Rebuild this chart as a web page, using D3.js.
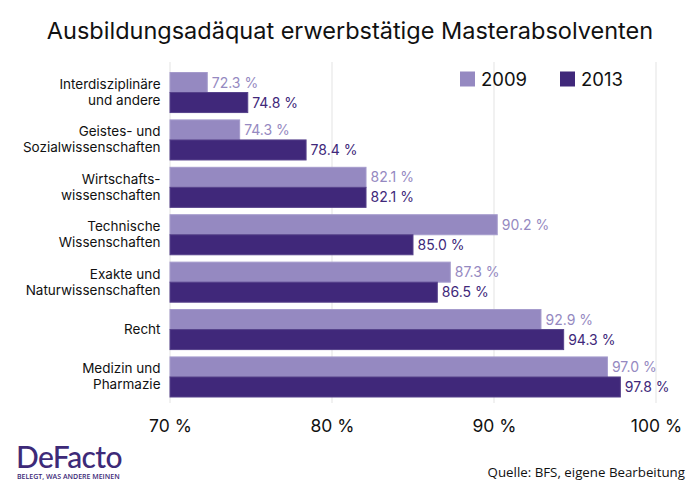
<!DOCTYPE html>
<html><head><meta charset="utf-8">
<script src="https://cdn.jsdelivr.net/npm/d3@7"></script>
<style>body{margin:0;background:#fff}svg{display:block}</style>
</head><body>
<svg id="c" width="700" height="495"></svg>
<script>
const categories = [
  ["Interdisziplinäre", "und andere"],
  ["Geistes- und", "Sozialwissenschaften"],
  ["Wirtschafts-", "wissenschaften"],
  ["Technische", "Wissenschaften"],
  ["Exakte und", "Naturwissenschaften"],
  ["Recht"],
  ["Medizin und", "Pharmazie"]
];
const values2009 = [72.3, 74.3, 82.1, 90.2, 87.3, 92.9, 97.0];
const values2013 = [74.8, 78.4, 82.1, 85.0, 86.5, 94.3, 97.8];
const seriesNames = ["2009", "2013"];
const tickValues = [70, 80, 90, 100];

const colors = {"2009": "#9589c1", "2013": "#40287a"};
const strokes = {"2009": "#a59bcc", "2013": "#56428b"};
const font = "Inter, 'Libre Franklin', sans-serif";

const svg = d3.select("#c");
const x = d3.scaleLinear().domain([70, 100]).range([170, 656]);
const idx = categories.map((d, i) => i);
const y = d3.scaleBand().domain(idx).range([72.5, 397]).paddingInner(0.155).paddingOuter(0);
const ySub = d3.scaleBand().domain(seriesNames).range([0, y.bandwidth()]);

// title
svg.append("text").attr("x", 350).attr("y", 39).attr("text-anchor", "middle")
  .style("font-family", font).style("font-size", "23.5px").style("fill", "#111")
  .text("Ausbildungsadäquat erwerbstätige Masterabsolventen");

// grid
svg.append("g").selectAll("line").data(tickValues).join("line")
  .attr("x1", d => x(d)).attr("x2", d => x(d)).attr("y1", 62).attr("y2", 403)
  .attr("stroke", "#e3e3e3").attr("stroke-width", 1);

// axis
const axis = d3.axisBottom(x).tickValues(tickValues).tickFormat(d => d + " %").tickSize(0).tickPadding(0);
const ag = svg.append("g").attr("transform", "translate(0,416.5)").call(axis);
ag.select(".domain").remove();
ag.selectAll("text").style("font-family", font).style("font-size", "17.5px").style("fill", "#111").attr("dy", "0.9em");

// bars
const rows = idx.map(i => ({i, vals: [{s: "2009", v: values2009[i]}, {s: "2013", v: values2013[i]}]}));
const g = svg.append("g").selectAll("g").data(rows).join("g")
  .attr("transform", d => `translate(0,${y(d.i)})`);
g.selectAll("rect").data(d => d.vals).join("rect")
  .attr("x", x(70)).attr("y", d => ySub(d.s))
  .attr("width", d => x(d.v) - x(70)).attr("height", ySub.bandwidth())
  .attr("fill", d => colors[d.s]).attr("stroke", d => strokes[d.s]).attr("stroke-width", 1);
g.selectAll("text.val").data(d => d.vals).join("text").attr("class", "val")
  .attr("x", d => x(d.v) + 4.5).attr("y", d => ySub(d.s) + ySub.bandwidth() / 2 + 5)
  .style("font-family", font).style("font-size", "14px").style("fill", d => colors[d.s])
  .text(d => d.v.toFixed(1) + " %");

// category labels
const cl = svg.append("g").selectAll("text").data(idx).join("text")
  .attr("text-anchor", "end").style("font-family", font).style("font-size", "13.5px").style("fill", "#111");
cl.each(function(i) {
  const lines = categories[i];
  const c = y(i) + y.bandwidth() / 2;
  const t = d3.select(this);
  lines.forEach((ln, k) => {
    const base = lines.length === 1 ? c + 4.5 : c - 3.5 + k * 16;
    t.append("tspan").attr("x", 160.5).attr("y", base).text(ln);
  });
});

// legend
const lg = svg.append("g").selectAll("g").data(seriesNames).join("g")
  .attr("transform", (d, k) => `translate(${460 + k * 100},71.5)`);
lg.append("rect").attr("width", 15).attr("height", 15).attr("fill", d => colors[d]);
lg.append("text").attr("x", 21).attr("y", 14.5).style("font-family", font).style("font-size", "18.5px").style("fill", "#111").text(d => d);

// source
svg.append("text").attr("x", 685).attr("y", 477).attr("text-anchor", "end")
  .style("font-family", "'Open Sans', sans-serif").style("font-size", "13.3px").style("fill", "#111")
  .text("Quelle: BFS, eigene Bearbeitung");

// logo
svg.append("text").attr("x", 16).attr("y", 468)
  .style("font-family", "Lato, sans-serif").style("font-size", "30px").style("font-weight", "500").style("fill", "#3d2a78").style("letter-spacing", "-0.6px")
  .text("DeFacto");
svg.append("text").attr("x", 17).attr("y", 478.5)
  .style("font-family", "'Open Sans', sans-serif").style("font-size", "7px").style("font-weight", "600").style("fill", "#3d2a78")
  .text("BELEGT, WAS ANDERE MEINEN");
</script>
</body></html>
